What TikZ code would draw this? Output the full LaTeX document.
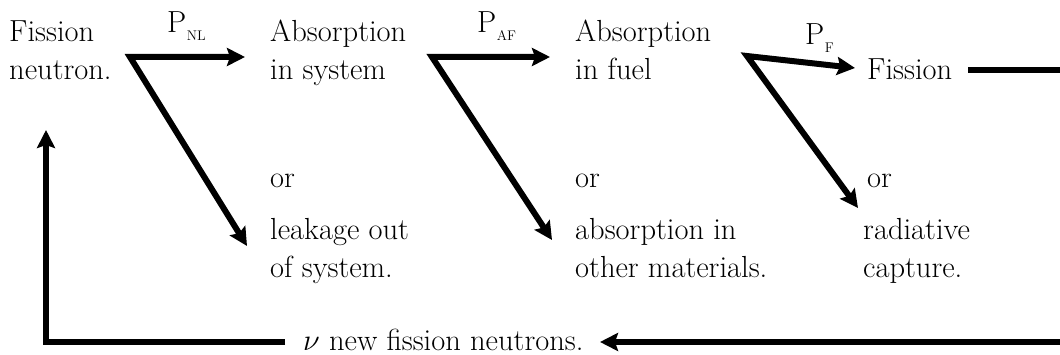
\RequirePackage{fix-cm}
\documentclass[tikz,border=0pt]{standalone}
\usetikzlibrary{arrows.meta}
\newcommand{\twol}[2]{\vtop{\hbox{#1}\hbox{#2}}}
\newcommand{\plab}[1]{P\kern0.5pt\raisebox{-8pt}{\fontsize{14}{14}\selectfont #1}}
\begin{document}
\begin{tikzpicture}[x=1pt,y=-1pt,
  txt/.style={font=\fontsize{30.5}{38}\selectfont, inner sep=0pt, anchor=base west},
  flow/.style={line width=6pt, line join=miter, {Stealth[length=18pt,width=18pt,inset=3pt]}-{Stealth[length=18pt,width=18pt,inset=3pt]}},
  back/.style={line width=6pt, line join=miter, -{Stealth[length=18pt,width=18pt,inset=3pt]}}]
\useasboundingbox (0,0) rectangle (1060,355);
\clip (0,0) rectangle (1060,355);
% texts
\node[txt] (fn) at (9,42) {\twol{Fission}{neutron.}};
\node[txt] (as) at (270,42) {\twol{Absorption}{in system}};
\node[txt] (or1) at (270,188) {or};
\node[txt] (lk) at (270,240) {\twol{leakage out}{of system.}};
\node[txt] (af) at (575,42) {\twol{Absorption}{in fuel}};
\node[txt] (or2) at (575,188) {or};
\node[txt] (ao) at (575,240) {\twol{absorption in}{other materials.}};
\node[txt] (fi) at (867,80) {Fission};
\node[txt] (or3) at (867,188) {or};
\node[txt] (rc) at (863,240) {\twol{radiative}{capture.}};
\node[txt] (nu) at (303,350) {$\nu$ new fission neutrons.};
\node[txt] (pnl) at (167,33) {\plab{NL}};
\node[txt] (paf) at (477,33) {\plab{AF}};
\node[txt] (pf) at (805,45) {\plab{F}};
% junctions and tips
\coordinate (j1) at (130,57);
\coordinate (t1a) at (245,57);
\coordinate (t1b) at (247,246);
\coordinate (j2) at (432,57);
\coordinate (t2a) at (550,57);
\coordinate (t2b) at (552,240);
\coordinate (j3) at (747,56);
\coordinate (t3a) at (855,68);
\coordinate (t3b) at (858,208);
\draw[flow] (t1a) -- (j1) -- (t1b);
\draw[flow] (t2a) -- (j2) -- (t2b);
\draw[flow] (t3a) -- (j3) -- (t3b);
% return loop
\coordinate (r0) at (968,70);
\coordinate (r1) at (1075,70);
\coordinate (r2) at (1075,342);
\coordinate (r3) at (600,342);
\draw[back] (r0) -- (r1) -- (r2) -- (r3);
\coordinate (l0) at (285,342);
\coordinate (l1) at (46,342);
\coordinate (l2) at (46,130);
\draw[back] (l0) -- (l1) -- (l2);
\end{tikzpicture}
\end{document}
